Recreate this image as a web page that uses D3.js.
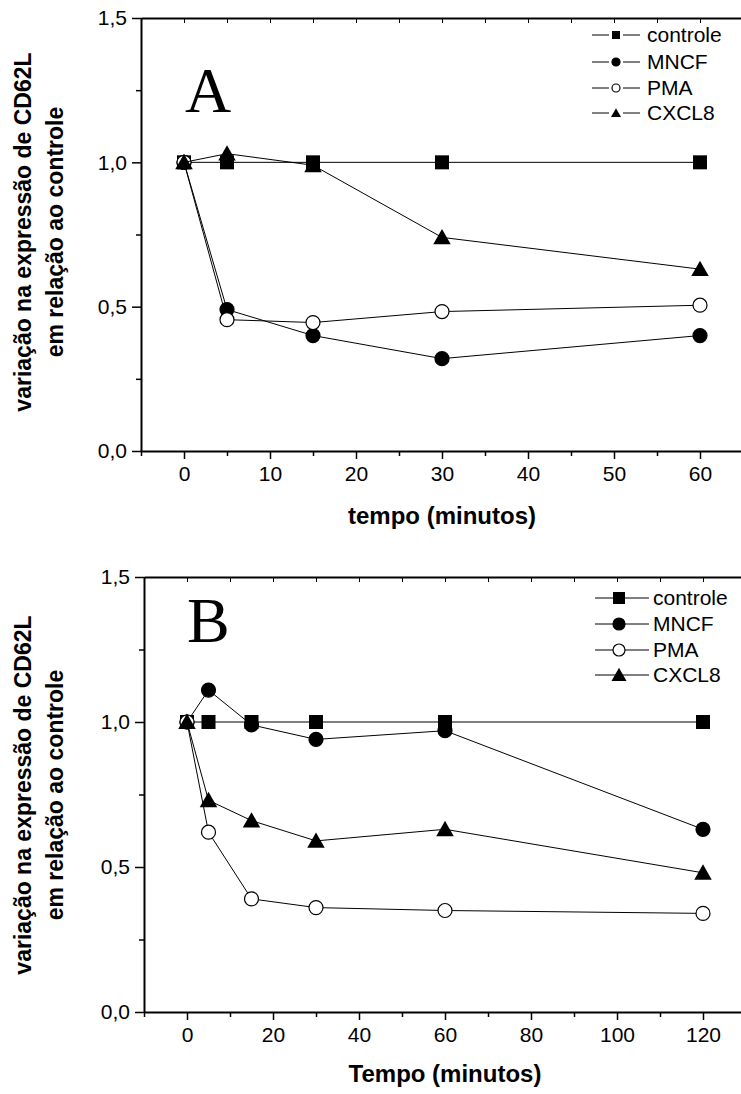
<!DOCTYPE html>
<html>
<head>
<meta charset="utf-8">
<script src="https://cdn.jsdelivr.net/npm/d3@7"></script>
<style>
body { margin: 0; background: #fff; }
svg { display: block; font-family: "Liberation Sans", Arial, sans-serif; }
</style>
</head>
<body>
<script>
// dados (variação relativa ao controle)
const seriesNames = ["controle", "MNCF", "PMA", "CXCL8"];

const tempoA = [0, 5, 15, 30, 60];
const controleA = [1.0, 1.0, 1.0, 1.0, 1.0];
const mncfA = [1.0, 0.49, 0.40, 0.32, 0.40];
const pmaA = [1.0, 0.455, 0.445, 0.483, 0.505];
const cxcl8A = [1.0, 1.03, 0.99, 0.74, 0.63];
const xTicksA = [0, 10, 20, 30, 40, 50, 60];

const tempoB = [0, 5, 15, 30, 60, 120];
const controleB = [1.0, 1.0, 1.0, 1.0, 1.0, 1.0];
const mncfB = [1.0, 1.11, 0.99, 0.94, 0.97, 0.63];
const pmaB = [1.0, 0.62, 0.39, 0.36, 0.35, 0.34];
const cxcl8B = [1.0, 0.73, 0.66, 0.59, 0.63, 0.48];
const xTicksB = [0, 20, 40, 60, 80, 100, 120];

const yTicks = [0, 0.5, 1.0, 1.5];
const yLabel = ["variação na expressão de CD62L", "em relação ao controle"];

const W = 741, H = 1094;
const svg = d3.select("body").append("svg").attr("width", W).attr("height", H);

const fmt = v => d3.format(".1f")(v).replace(".", ",");

// desenha um marcador do tipo dado
function marker(g, type, x, y, s) {
	if (type == "controle") {
		g.append("rect").attr("x", x - s / 2).attr("y", y - s / 2)
			.attr("width", s).attr("height", s).attr("fill", "#000");
	} else if (type == "MNCF" || type == "PMA") {
		g.append("circle").attr("cx", x).attr("cy", y).attr("r", s / 2)
			.attr("fill", type == "MNCF" ? "#000" : "#fff")
			.attr("stroke", "#000").attr("stroke-width", 1.2);
	} else {
		const w = s * 1.25, h = s * 1.1;
		g.append("path")
			.attr("d", `M${x},${y - h * 0.55}L${x + w / 2},${y + h * 0.45}L${x - w / 2},${y + h * 0.45}Z`)
			.attr("fill", "#000");
	}
}

function drawPanel(p) {
	const x = d3.scaleLinear().domain(p.xDomain).range([p.left, p.right]);
	const y = d3.scaleLinear().domain([0, 1.5]).range([p.bottom, p.top]);
	const g = svg.append("g");

	// eixo x (baixo)
	const xMinor = d3.range(p.xDomain[0], p.xDomain[1] + 0.001, p.xStep / 2)
		.filter(v => !p.xTicks.includes(v));
	g.append("g").attr("transform", `translate(0,${p.bottom})`)
		.call(d3.axisBottom(x).tickValues(p.xTicks).tickSize(8).tickSizeOuter(0).tickPadding(7))
		.call(a => a.select(".domain").attr("stroke-width", 2))
		.call(a => a.selectAll(".tick line").attr("stroke-width", 1.5))
		.call(a => a.selectAll("text").attr("font-size", 21).attr("font-family", "Liberation Sans, Arial"));
	g.append("g").attr("transform", `translate(0,${p.bottom})`)
		.call(d3.axisBottom(x).tickValues(xMinor).tickSize(5).tickFormat(""))
		.call(a => a.select(".domain").remove())
		.call(a => a.selectAll(".tick line").attr("stroke-width", 1.5));

	// eixo de cima (moldura), marcas para dentro
	g.append("g").attr("transform", `translate(0,${p.top})`)
		.call(d3.axisTop(x).tickValues(p.xTicks.concat(xMinor)).tickSize(-5).tickFormat("").tickSizeOuter(0))
		.call(a => a.select(".domain").attr("stroke-width", 2));

	// eixo y
	g.append("g").attr("transform", `translate(${p.left},0)`)
		.call(d3.axisLeft(y).tickValues(yTicks).tickSize(9).tickSizeOuter(0).tickPadding(5).tickFormat(fmt))
		.call(a => a.select(".domain").attr("stroke-width", 2))
		.call(a => a.selectAll(".tick line").attr("stroke-width", 1.5))
		.call(a => a.selectAll("text").attr("font-size", 21).attr("font-family", "Liberation Sans, Arial"));
	g.append("g").attr("transform", `translate(${p.left},0)`)
		.call(d3.axisLeft(y).tickValues([0.25, 0.75, 1.25]).tickSize(5).tickFormat(""))
		.call(a => a.select(".domain").remove())
		.call(a => a.selectAll(".tick line").attr("stroke-width", 1.5));

	// títulos
	g.append("text")
		.attr("x", (p.left + p.right) / 2).attr("y", p.bottom + p.titleOff)
		.attr("text-anchor", "middle").attr("font-weight", "bold").attr("font-size", 24)
		.text(p.xTitle);

	const yl = g.append("text")
		.attr("transform", `translate(23,${p.yLabelMid}) rotate(-90)`)
		.attr("text-anchor", "middle").attr("font-weight", "bold").attr("font-size", 23);
	yl.append("tspan").attr("x", 0).attr("dy", "0.35em").text(yLabel[0]);
	yl.append("tspan").attr("x", 0).attr("dy", 32).text(yLabel[1]);

	g.append("text").attr("x", p.letterX).attr("y", p.letterY)
		.attr("font-family", "Liberation Serif, Times New Roman, serif").attr("font-size", 64)
		.text(p.letter);

	// séries
	const line = d3.line().x(d => x(d[0])).y(d => y(d[1]));
	p.series.forEach((vals, i) => {
		const pts = p.tempo.map((t, j) => [t, vals[j]]);
		g.append("path").attr("d", line(pts)).attr("fill", "none")
			.attr("stroke", "#000").attr("stroke-width", 1);
		pts.forEach(d => marker(g, seriesNames[i], x(d[0]), y(d[1]), 14));
	});

	// legenda
	seriesNames.forEach((name, i) => {
		const ly = p.legY[i];
		const lg = g.append("g");
		if (p.legGap) {
			lg.append("line").attr("x1", p.legX - 24).attr("x2", p.legX - 7).attr("y1", ly).attr("y2", ly).attr("stroke", "#000");
			lg.append("line").attr("x1", p.legX + 7).attr("x2", p.legX + 24).attr("y1", ly).attr("y2", ly).attr("stroke", "#000");
		} else {
			lg.append("line").attr("x1", p.legX - 24).attr("x2", p.legX + 30).attr("y1", ly).attr("y2", ly).attr("stroke", "#000");
		}
		marker(lg, name, p.legX, ly, p.legSize);
		lg.append("text").attr("x", p.legText).attr("y", ly).attr("dy", "0.35em")
			.attr("font-size", 21).text(name);
	});
}

drawPanel({
	tempo: tempoA, series: [controleA, mncfA, pmaA, cxcl8A], xTicks: xTicksA,
	xDomain: [-5, 65], xStep: 10, left: 141, right: 743, top: 18, bottom: 451,
	xTitle: "tempo (minutos)", titleOff: 73, yLabelMid: 232,
	letter: "A", letterX: 185, letterY: 112,
	legX: 616, legText: 647, legY: [35, 62, 88, 113], legSize: 8, legGap: true
});

drawPanel({
	tempo: tempoB, series: [controleB, mncfB, pmaB, cxcl8B], xTicks: xTicksB,
	xDomain: [-10, 130], xStep: 20, left: 144, right: 746, top: 577, bottom: 1012,
	xTitle: "Tempo (minutos)", titleOff: 70, yLabelMid: 795,
	letter: "B", letterX: 187, letterY: 642,
	legX: 619, legText: 653, legY: [598, 624, 650, 675], legSize: 12, legGap: false
});
</script>
</body>
</html>
